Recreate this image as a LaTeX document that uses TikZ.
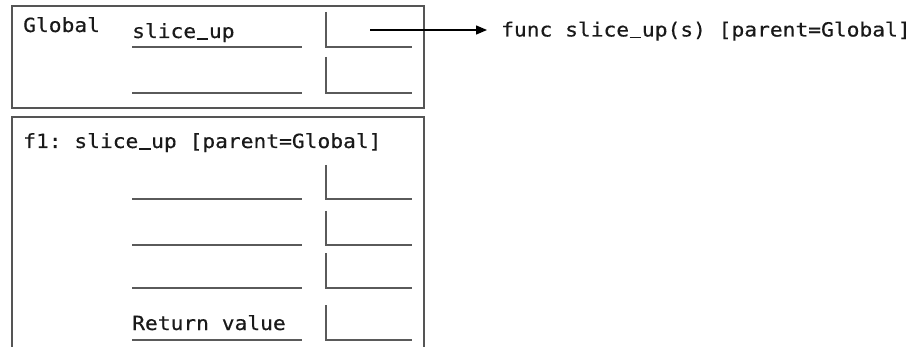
\documentclass[tikz,border=0pt]{standalone}
\usepackage{fontspec}
\newfontfamily\codefont[FakeStretch=1.09,FakeBold=0.4]{DejaVu Sans Mono}
\usetikzlibrary{arrows.meta}
\definecolor{framecol}{HTML}{555555}
\definecolor{linecol}{HTML}{5A5A5A}
\newcommand{\us}{\makebox[0.656em]{\rule[-0.1em]{0.6em}{0.09em}}}
\tikzset{
  txt/.style={anchor=base west, inner sep=0pt, font=\codefont\fontsize{19.5}{22}\selectfont\frenchspacing, text=black!90},
  framebox/.style={draw=framecol, line width=1.4pt},
  slotline/.style={draw=linecol, line width=1.4pt},
  ptrarrow/.style={draw=black, line width=1.4pt, -{Triangle[length=11pt,width=9pt]}}
}
\begin{document}
\begin{tikzpicture}[x=1pt,y=-1pt]
\useasboundingbox[fill=white] (0,0) rectangle (920,347);
% Global frame
\draw[framebox] (12,6) rectangle (424,108);
\node[txt] (glabel) at (23,32) {Global};
\node[txt] (gname) at (132,38) {slice\us up};
\draw[slotline] (132,47) -- (302,47);
\draw[slotline] (326,12) -- (326,47) -- (412,47);
\draw[slotline] (132,93) -- (302,93);
\draw[slotline] (326,57) -- (326,93) -- (412,93);
% pointer
\coordinate (ptr) at (370,30);
\node[txt] (fn) at (501,36.5) {func slice\us up(s) [parent=Global]};
\draw[ptrarrow, shorten >=14pt] (ptr) -- (ptr -| fn.west);
% f1 frame
\draw[framebox] (12,348) -- (12,117) -- (424,117) -- (424,348);
\node[txt] (flabel) at (23,148) {f1: slice\us up [parent=Global]};
\draw[slotline] (132,199) -- (302,199);
\draw[slotline] (326,165) -- (326,199) -- (412,199);
\draw[slotline] (132,245) -- (302,245);
\draw[slotline] (326,211) -- (326,245) -- (412,245);
\draw[slotline] (132,288) -- (302,288);
\draw[slotline] (326,253) -- (326,288) -- (412,288);
\node[txt] (ret) at (132,330) {Return value};
\draw[slotline] (132,340) -- (302,340);
\draw[slotline] (326,305) -- (326,340) -- (412,340);
\end{tikzpicture}
\end{document}
